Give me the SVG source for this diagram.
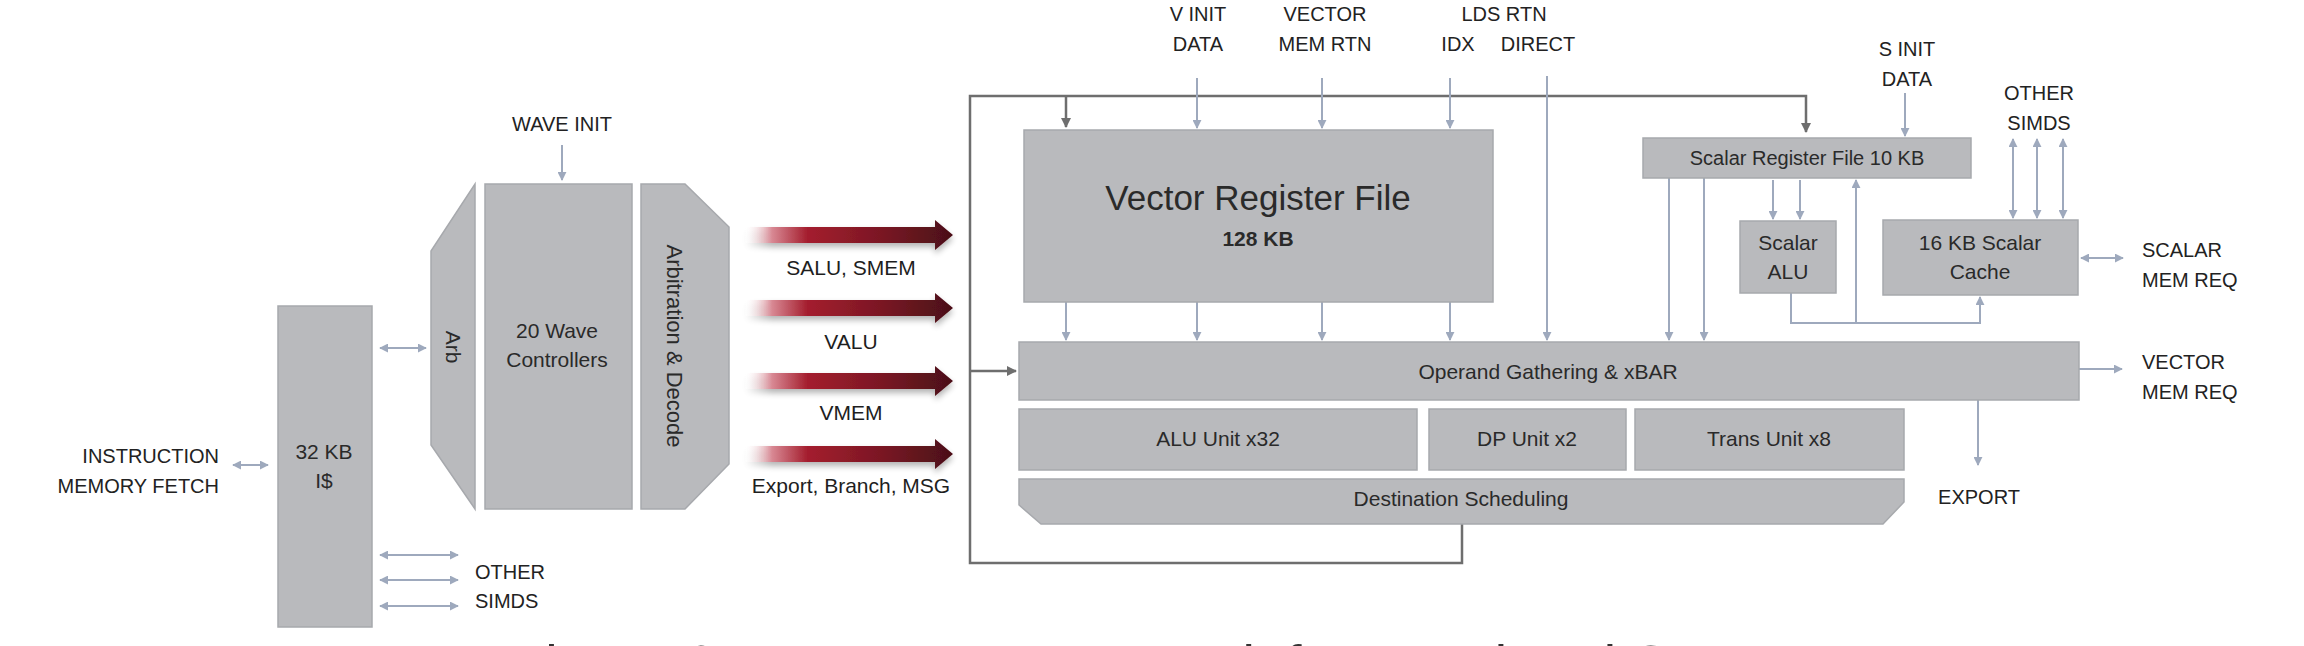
<svg xmlns="http://www.w3.org/2000/svg" width="2304" height="646" viewBox="0 0 2304 646">
<style>
text{font-family:"Liberation Sans",Arial,sans-serif;fill:#222;}
.lbl{font-size:20px;}
.box{fill:#b9babd;stroke:#a7a9ad;stroke-width:1.5;}
.bt{font-size:21px;text-anchor:middle;fill:#2a2a2a;}
.ar{font-size:21px;text-anchor:middle;fill:#1e1e1e;}
.c{stroke:#9ea9bd;stroke-width:2;fill:none;}
.d{stroke:#6e6e6e;stroke-width:2.5;fill:none;}
.mid{text-anchor:middle;}
.end{text-anchor:end;}
</style>
<defs>
<marker id="ah" viewBox="0 0 10 10" refX="9" refY="5" markerWidth="9" markerHeight="9" markerUnits="userSpaceOnUse" orient="auto-start-reverse"><path d="M0,0 L10,5 L0,10 z" fill="#9ea9bd"/></marker>
<marker id="ahd" viewBox="0 0 10 10" refX="9" refY="5" markerWidth="10" markerHeight="10" markerUnits="userSpaceOnUse" orient="auto"><path d="M0,0 L10,5 L0,10 z" fill="#6e6e6e"/></marker>
<linearGradient id="rg" gradientUnits="userSpaceOnUse" x1="745" y1="0" x2="953" y2="0">
<stop offset="0" stop-color="#ffffff" stop-opacity="0"/>
<stop offset="0.13" stop-color="#d88893"/>
<stop offset="0.3" stop-color="#a41e2e"/>
<stop offset="0.65" stop-color="#7b1724"/>
<stop offset="1" stop-color="#4a1018"/>
</linearGradient>
<filter id="sh" x="-5%" y="-50%" width="110%" height="200%"><feGaussianBlur in="SourceAlpha" stdDeviation="3"/><feOffset dy="4"/><feComponentTransfer><feFuncA type="linear" slope="0.3"/></feComponentTransfer><feMerge><feMergeNode/><feMergeNode in="SourceGraphic"/></feMerge></filter>
<path id="ra" d="M745,-8 H935 V-15 L953,0 L935,15 V8 H745 Z" fill="url(#rg)" filter="url(#sh)"/>
</defs>

<g id="connectors">
<!-- loop (dark gray) -->
<path class="d" d="M1462,524 V563 H970 V96 H1806 V132" marker-end="url(#ahd)"/>
<path class="d" d="M1066,96 V127" marker-end="url(#ahd)"/>
<path class="d" d="M970,371 H1016" marker-end="url(#ahd)"/>
<!-- front end -->
<line class="c" x1="562" y1="145" x2="562" y2="180" marker-end="url(#ah)"/>
<line class="c" x1="233" y1="465" x2="268" y2="465" marker-start="url(#ah)" marker-end="url(#ah)"/>
<line class="c" x1="380" y1="348" x2="426" y2="348" marker-start="url(#ah)" marker-end="url(#ah)"/>
<line class="c" x1="380" y1="555" x2="458" y2="555" marker-start="url(#ah)" marker-end="url(#ah)"/>
<line class="c" x1="380" y1="580" x2="458" y2="580" marker-start="url(#ah)" marker-end="url(#ah)"/>
<line class="c" x1="380" y1="606" x2="458" y2="606" marker-start="url(#ah)" marker-end="url(#ah)"/>
<!-- top inputs -->
<line class="c" x1="1197" y1="78" x2="1197" y2="128" marker-end="url(#ah)"/>
<line class="c" x1="1322" y1="78" x2="1322" y2="128" marker-end="url(#ah)"/>
<line class="c" x1="1450" y1="78" x2="1450" y2="128" marker-end="url(#ah)"/>
<line class="c" x1="1547" y1="76" x2="1547" y2="340" marker-end="url(#ah)"/>
<!-- VRF to OG -->
<line class="c" x1="1066" y1="302" x2="1066" y2="340" marker-end="url(#ah)"/>
<line class="c" x1="1197" y1="302" x2="1197" y2="340" marker-end="url(#ah)"/>
<line class="c" x1="1322" y1="302" x2="1322" y2="340" marker-end="url(#ah)"/>
<line class="c" x1="1450" y1="302" x2="1450" y2="340" marker-end="url(#ah)"/>
<!-- scalar -->
<line class="c" x1="1669" y1="178" x2="1669" y2="340" marker-end="url(#ah)"/>
<line class="c" x1="1704" y1="178" x2="1704" y2="340" marker-end="url(#ah)"/>
<line class="c" x1="1773" y1="180" x2="1773" y2="219" marker-end="url(#ah)"/>
<line class="c" x1="1800" y1="180" x2="1800" y2="219" marker-end="url(#ah)"/>
<line class="c" x1="1905" y1="93" x2="1905" y2="136" marker-end="url(#ah)"/>
<line class="c" x1="2013" y1="139" x2="2013" y2="218" marker-start="url(#ah)" marker-end="url(#ah)"/>
<line class="c" x1="2037" y1="139" x2="2037" y2="218" marker-start="url(#ah)" marker-end="url(#ah)"/>
<line class="c" x1="2063" y1="139" x2="2063" y2="218" marker-start="url(#ah)" marker-end="url(#ah)"/>
<line class="c" x1="2081" y1="258" x2="2123" y2="258" marker-start="url(#ah)" marker-end="url(#ah)"/>
<path class="c" d="M1791,293 V323 H1980 V297" marker-end="url(#ah)"/>
<line class="c" x1="1856" y1="323" x2="1856" y2="180" marker-end="url(#ah)"/>
<line class="c" x1="2079" y1="369" x2="2122" y2="369" marker-end="url(#ah)"/>
<line class="c" x1="1978" y1="400" x2="1978" y2="465" marker-end="url(#ah)"/>
<!-- issue arrows -->
<use href="#ra" y="235"/>
<use href="#ra" y="308"/>
<use href="#ra" y="381"/>
<use href="#ra" y="454"/>
</g>

<g id="labels">
<text class="lbl end" x="219" y="463">INSTRUCTION</text>
<text class="lbl end" x="219" y="493">MEMORY FETCH</text>
<text class="lbl" x="475" y="579">OTHER</text>
<text class="lbl" x="475" y="608">SIMDS</text>
<text class="lbl mid" x="562" y="131">WAVE INIT</text>
<text class="ar" x="851" y="275">SALU, SMEM</text>
<text class="ar" x="851" y="349">VALU</text>
<text class="ar" x="851" y="420">VMEM</text>
<text class="ar" x="851" y="493">Export, Branch, MSG</text>
<text class="lbl mid" x="1198" y="21">V INIT</text>
<text class="lbl mid" x="1198" y="51">DATA</text>
<text class="lbl mid" x="1325" y="21">VECTOR</text>
<text class="lbl mid" x="1325" y="51">MEM RTN</text>
<text class="lbl mid" x="1504" y="21">LDS RTN</text>
<text class="lbl mid" x="1458" y="51">IDX</text>
<text class="lbl mid" x="1538" y="51">DIRECT</text>
<text class="lbl mid" x="1907" y="56">S INIT</text>
<text class="lbl mid" x="1907" y="86">DATA</text>
<text class="lbl mid" x="2039" y="100">OTHER</text>
<text class="lbl mid" x="2039" y="130">SIMDS</text>
<text class="lbl" x="2142" y="257">SCALAR</text>
<text class="lbl" x="2142" y="287">MEM REQ</text>
<text class="lbl" x="2142" y="369">VECTOR</text>
<text class="lbl" x="2142" y="399">MEM REQ</text>
<text class="lbl mid" x="1979" y="504">EXPORT</text>
<text x="511" y="684" style="font-size:56px;fill:#333">Figure 2 – RDNA compute unit front end and SIMD</text>
</g>

<g id="icache">
<rect class="box" x="278" y="306" width="94" height="321"/>
<text class="bt" x="324" y="459">32 KB</text>
<text class="bt" x="324" y="488">I$</text>
</g>
<g id="arb">
<polygon class="box" points="475,184 475,509 431,445 431,251"/>
<text class="bt" transform="translate(453,347) rotate(90)" y="7">Arb</text>
</g>
<g id="wave-controllers">
<rect class="box" x="485" y="184" width="147" height="325"/>
<text class="bt" x="557" y="338">20 Wave</text>
<text class="bt" x="557" y="367">Controllers</text>
</g>
<g id="arb-decode">
<polygon class="box" points="641,184 685,184 729,227 729,464 685,509 641,509"/>
<text class="bt" transform="translate(674,346) rotate(90)" y="7" style="font-size:22px">Arbitration &amp; Decode</text>
</g>
<g id="vrf">
<rect class="box" x="1024" y="130" width="469" height="172"/>
<text class="bt" x="1258" y="210" style="font-size:35px">Vector Register File</text>
<text class="bt" x="1258" y="246" style="font-weight:bold">128 KB</text>
</g>
<g id="srf">
<rect class="box" x="1643" y="138" width="328" height="40"/>
<text class="bt" x="1807" y="165" style="font-size:20px">Scalar Register File 10 KB</text>
</g>
<g id="scalar-alu">
<rect class="box" x="1740" y="221" width="96" height="72"/>
<text class="bt" x="1788" y="250">Scalar</text>
<text class="bt" x="1788" y="279">ALU</text>
</g>
<g id="scalar-cache">
<rect class="box" x="1883" y="220" width="195" height="75"/>
<text class="bt" x="1980" y="250">16 KB Scalar</text>
<text class="bt" x="1980" y="279">Cache</text>
</g>
<g id="operand-gathering">
<rect class="box" x="1019" y="342" width="1060" height="58"/>
<text class="bt" x="1548" y="379">Operand Gathering &amp; xBAR</text>
</g>
<g id="alu-unit">
<rect class="box" x="1019" y="409" width="398" height="61"/>
<text class="bt" x="1218" y="446">ALU Unit x32</text>
</g>
<g id="dp-unit">
<rect class="box" x="1429" y="409" width="197" height="61"/>
<text class="bt" x="1527" y="446">DP Unit x2</text>
</g>
<g id="trans-unit">
<rect class="box" x="1635" y="409" width="269" height="61"/>
<text class="bt" x="1769" y="446">Trans Unit x8</text>
</g>
<g id="dest-sched">
<polygon class="box" points="1019,479 1904,479 1904,502 1883,524 1041,524 1019,505"/>
<text class="bt" x="1461" y="506">Destination Scheduling</text>
</g>
</svg>
